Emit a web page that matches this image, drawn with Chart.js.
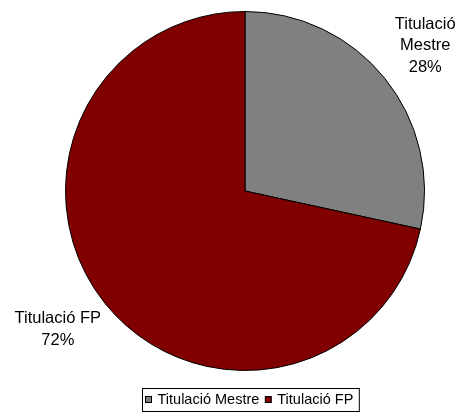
<!DOCTYPE html>
<html>
<head>
<meta charset="utf-8">
<script src="https://cdn.jsdelivr.net/npm/chart.js@4/dist/chart.umd.min.js"></script>
<style>
  html, body { margin: 0; padding: 0; background: #fff; }
  canvas { display: block; }
</style>
</head>
<body>
<canvas id="pie" width="456" height="417"></canvas>
<script>
// chart data
var categories = ['Titulació Mestre', 'Titulació FP'];
var labelLines = [['Titulació', 'Mestre'], ['Titulació FP']];
var values = [28.4, 71.6];
var colors = ['#808080', '#800000'];

// labels outside the slices + boxed legend at the bottom (Excel look)
var excelLabels = {
  id: 'excelLabels',
  afterDraw: function (chart, args, opts) {
    var ctx = chart.ctx;
    var meta = chart.getDatasetMeta(0);
    var total = values.reduce(function (a, b) { return a + b; }, 0);
    ctx.save();
    ctx.fillStyle = '#000';
    ctx.font = '16.5px "Liberation Sans", Arial, sans-serif';
    ctx.textAlign = 'center';
    ctx.textBaseline = 'middle';
    meta.data.forEach(function (arc, i) {
      var p = arc.getProps(['x', 'y', 'startAngle', 'endAngle', 'outerRadius'], true);
      var mid = (p.startAngle + p.endAngle) / 2;
      var r = p.outerRadius + 52;
      var nudge = opts.nudge[i] || [0, 0];
      var cx = p.x + Math.cos(mid) * r + nudge[0];
      var cy = p.y + Math.sin(mid) * r + nudge[1];
      var lines = labelLines[i].concat([Math.round(values[i] / total * 100) + '%']);
      var lh = 21.7;
      var y0 = cy - (lines.length - 1) * lh / 2;
      lines.forEach(function (t, k) {
        ctx.fillText(t, cx, y0 + k * lh);
      });
    });

    // legend
    ctx.font = '14.5px "Liberation Sans", Arial, sans-serif';
    ctx.textAlign = 'left';
    var sq = 6, gap = 6, itemGap = 6, padL = 3, padR = 6;
    var w = padL + padR;
    categories.forEach(function (c, i) {
      w += sq + gap + ctx.measureText(c).width + (i < categories.length - 1 ? itemGap : 0);
    });
    var area = chart.chartArea;
    var cxl = (area.left + area.right) / 2 + 5;
    var lx = Math.round(cxl - w / 2) + 0.5;
    var ly = 388.5, lhgt = 23;
    ctx.strokeStyle = '#000';
    ctx.lineWidth = 1;
    ctx.strokeRect(lx, ly, w, lhgt);
    var x = lx + padL;
    var ym = ly + lhgt / 2;
    categories.forEach(function (c, i) {
      ctx.fillStyle = colors[i];
      ctx.fillRect(x, ym - sq / 2 - 0.5, sq, sq);
      ctx.strokeRect(x, ym - sq / 2 - 0.5, sq, sq);
      x += sq + gap;
      ctx.fillStyle = '#000';
      ctx.fillText(c, x, ym);
      x += ctx.measureText(c).width + itemGap;
    });
    ctx.restore();
  }
};

new Chart(document.getElementById('pie'), {
  type: 'pie',
  data: {
    labels: categories,
    datasets: [{
      data: values,
      backgroundColor: colors,
      borderColor: '#000',
      borderWidth: 1
    }]
  },
  options: {
    responsive: false,
    devicePixelRatio: 1,
    animation: false,
    layout: { padding: { left: 65, right: 31, top: 11, bottom: 46 } },
    plugins: {
      legend: { display: false },
      tooltip: { enabled: false },
      excelLabels: { nudge: [[0, 0], [-7, -7]] }
    }
  },
  plugins: [excelLabels]
});
</script>
</body>
</html>
